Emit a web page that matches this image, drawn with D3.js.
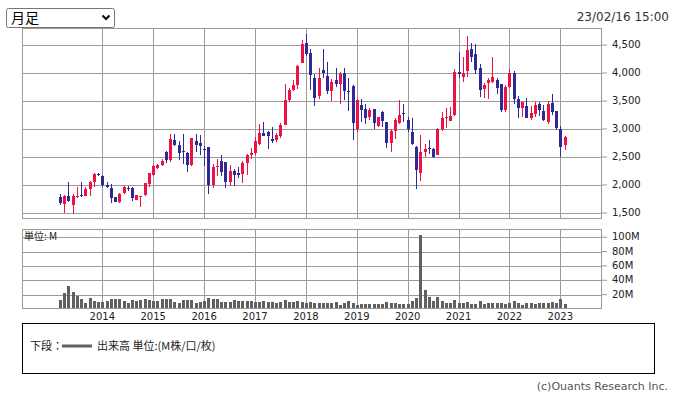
<!DOCTYPE html>
<html>
<head>
<meta charset="utf-8">
<script src="https://cdn.jsdelivr.net/npm/d3@7"></script>
<style>
  body { margin: 0; background: #fff; }
  svg { display: block; }
  .tick text { font-family: 'DejaVu Sans', sans-serif; font-size: 10px; fill: #222; }
  .tick line { stroke: #9a9a9a; }
</style>
</head>
<body>
<svg id="chart" width="675" height="395"></svg>
<script>
// monthly bars, 2013/03 .. 2023/02
const months = [
  '2013/03', '2013/04', '2013/05', '2013/06', '2013/07', '2013/08', '2013/09', '2013/10', '2013/11', '2013/12',
  '2014/01', '2014/02', '2014/03', '2014/04', '2014/05', '2014/06', '2014/07', '2014/08', '2014/09', '2014/10', '2014/11', '2014/12',
  '2015/01', '2015/02', '2015/03', '2015/04', '2015/05', '2015/06', '2015/07', '2015/08', '2015/09', '2015/10', '2015/11', '2015/12',
  '2016/01', '2016/02', '2016/03', '2016/04', '2016/05', '2016/06', '2016/07', '2016/08', '2016/09', '2016/10', '2016/11', '2016/12',
  '2017/01', '2017/02', '2017/03', '2017/04', '2017/05', '2017/06', '2017/07', '2017/08', '2017/09', '2017/10', '2017/11', '2017/12',
  '2018/01', '2018/02', '2018/03', '2018/04', '2018/05', '2018/06', '2018/07', '2018/08', '2018/09', '2018/10', '2018/11', '2018/12',
  '2019/01', '2019/02', '2019/03', '2019/04', '2019/05', '2019/06', '2019/07', '2019/08', '2019/09', '2019/10', '2019/11', '2019/12',
  '2020/01', '2020/02', '2020/03', '2020/04', '2020/05', '2020/06', '2020/07', '2020/08', '2020/09', '2020/10', '2020/11', '2020/12',
  '2021/01', '2021/02', '2021/03', '2021/04', '2021/05', '2021/06', '2021/07', '2021/08', '2021/09', '2021/10', '2021/11', '2021/12',
  '2022/01', '2022/02', '2022/03', '2022/04', '2022/05', '2022/06', '2022/07', '2022/08', '2022/09', '2022/10', '2022/11', '2022/12',
  '2023/01', '2023/02'
];

const opens = [
  1784, 1666, 1796, 1642, 1790, 1814, 1808, 1920, 2056, 2198,
  2163, 2003, 1944, 1778, 1695, 1861, 1950, 1938, 1740, 1780, 1829, 2009,
  2186, 2305, 2358, 2583, 2441, 2802, 2714, 2613, 2577, 2351, 2786, 2750,
  2649, 2679, 2000, 2321, 2429, 2405, 2048, 2250, 2208, 2202, 2387, 2530,
  2577, 2726, 2935, 2952, 2827, 2798, 2869, 3071, 3512, 3690, 3780, 4173,
  4542, 4363, 3917, 3583, 4060, 3952, 3673, 3881, 3810, 3994, 3673, 3774,
  2994, 3429, 3363, 3220, 3363, 3060, 3298, 3131, 2756, 2970, 3113, 3286,
  3161, 2952, 2685, 2208, 2583, 2667, 2649, 2542, 2994, 3202, 3149, 3250,
  4024, 3935, 4030, 4435, 4345, 4095, 3708, 3815, 3845, 3881, 3810, 3333,
  3744, 4000, 3542, 3369, 3411, 3202, 3262, 3452, 3321, 3131, 3464, 3321,
  3000, 2708
];

const highs = [
  1843, 1820, 2062, 1831, 1968, 2062, 1962, 2074, 2210, 2222,
  2170, 2062, 2009, 1790, 1861, 1985, 1985, 1962, 1825, 1803, 2043, 2222,
  2364, 2376, 2470, 2601, 2908, 2908, 2786, 2917, 2583, 2845, 2917, 2887,
  2690, 2685, 2369, 2470, 2530, 2410, 2351, 2280, 2321, 2435, 2548, 2661,
  2857, 3095, 3125, 2960, 3042, 2935, 3101, 3798, 3726, 3881, 4143, 4589,
  4702, 4435, 3976, 4095, 4435, 4202, 3887, 4095, 4024, 4095, 3917, 3780,
  3542, 3542, 3440, 3381, 3363, 3220, 3321, 3131, 2994, 3190, 3512, 3440,
  3220, 3190, 2690, 2887, 2726, 2810, 2667, 3012, 3310, 3381, 3393, 4077,
  4381, 4292, 4667, 4542, 4524, 4167, 3827, 3905, 4292, 3905, 3810, 3780,
  4066, 4042, 3589, 3488, 3560, 3411, 3488, 3488, 3429, 3500, 3631, 3321,
  3048, 2869
];

const lows = [
  1636, 1506, 1701, 1488, 1760, 1790, 1802, 1802, 1968, 2157,
  1968, 1950, 1684, 1690, 1672, 1843, 1897, 1713, 1735, 1613, 1800, 1968,
  2169, 2281, 2334, 2394, 2417, 2689, 2440, 2369, 2238, 2345, 2595, 2530,
  2333, 1833, 1940, 2155, 2155, 1946, 1976, 1976, 2119, 2042, 2179, 2464,
  2530, 2714, 2869, 2637, 2756, 2768, 2845, 3065, 3488, 3679, 3708, 4170,
  4300, 3690, 3405, 3530, 3917, 3631, 3500, 3750, 3452, 3512, 3321, 2798,
  2952, 3131, 3095, 3161, 3006, 3036, 3036, 2667, 2595, 2821, 3095, 3131,
  2952, 2714, 1923, 2071, 2506, 2560, 2488, 2530, 2958, 3024, 3137, 3232,
  3905, 3845, 3935, 4202, 3988, 3577, 3560, 3542, 3827, 3631, 3310, 3310,
  3726, 3440, 3190, 3214, 3190, 3155, 3214, 3226, 3143, 3095, 3250, 2976,
  2506, 2619
];

const closes = [
  1678, 1796, 1713, 1808, 1808, 1796, 1920, 2062, 2204, 2175,
  1997, 1968, 1766, 1695, 1843, 1962, 1932, 1760, 1815, 1803, 2028, 2210,
  2340, 2352, 2435, 2441, 2825, 2713, 2565, 2583, 2351, 2833, 2708, 2690,
  2637, 2000, 2327, 2333, 2226, 2048, 2250, 2173, 2179, 2399, 2530, 2577,
  2792, 2935, 2881, 2869, 2780, 2899, 3077, 3512, 3702, 3780, 4125, 4524,
  4333, 3958, 3548, 3917, 3994, 3685, 3845, 3798, 3976, 3673, 3655, 3101,
  3518, 3345, 3190, 3345, 3101, 3214, 3149, 2756, 2970, 3161, 3256, 3262,
  2994, 2726, 2268, 2589, 2649, 2643, 2506, 2994, 3202, 3214, 3238, 4024,
  3988, 4000, 4417, 4286, 4048, 3690, 3792, 3869, 3935, 3726, 3333, 3756,
  4000, 3530, 3381, 3488, 3190, 3292, 3429, 3333, 3161, 3452, 3298, 3012,
  2673, 2851
];

// volume, millions
const volumes = [
  12.6, 21.6, 31.5, 23.4, 18.0, 13.5, 8.6, 15.3, 10.8, 9.9,
  9.9, 11.3, 14.0, 14.0, 14.0, 10.8, 8.6, 12.2, 11.7, 12.6, 14.0, 12.6,
  11.3, 11.7, 13.5, 14.0, 13.5, 9.9, 8.6, 12.2, 12.2, 12.6, 9.0, 9.9,
  11.3, 14.9, 14.0, 14.0, 9.9, 9.9, 9.9, 12.2, 10.8, 11.3, 11.3, 11.3,
  9.5, 9.9, 11.3, 9.9, 9.5, 7.7, 9.9, 12.6, 9.9, 9.9, 11.3, 9.5,
  7.7, 9.9, 9.0, 8.5, 8.5, 8.5, 9.0, 9.9, 5.8, 8.5, 11.3, 8.5,
  5.8, 7.1, 7.1, 7.1, 7.1, 7.1, 7.1, 9.9, 9.0, 8.5, 7.1, 7.1,
  7.1, 11.3, 15.4, 102.8, 26.5, 16.8, 11.7, 16.8, 11.7, 9.0, 9.0, 12.7,
  9.0, 9.0, 9.9, 7.1, 7.1, 11.3, 7.1, 8.5, 8.5, 8.5, 9.0, 7.1,
  9.0, 11.3, 8.5, 5.8, 8.5, 8.5, 7.1, 8.5, 8.5, 8.5, 9.9, 8.5,
  14.0, 7.1
];

const priceTicks = [1500, 2000, 2500, 3000, 3500, 4000, 4500];
const volumeTicks = [20, 40, 60, 80, 100];

const upColor = '#ec1245';
const downColor = '#2d2a98';
const gridColor = '#9a9a9a';

const svg = d3.select('#chart');
const crisp = v => Math.round(v) + 0.5;

const plotLeft = 22;
const plotRight = 601;
const priceTop = 28, priceBottom = 218;
const volTop = 229, volBottom = 308;

const x = d3.scaleLinear().domain([-8.94, 127.76]).range([plotLeft, plotRight + 0.7]);
const y = d3.scaleLinear().domain([1405, 4798]).range([priceBottom + 0.3, priceTop + 0.3]);
const yv = d3.scaleLinear().domain([0, 111]).range([volBottom + 1, volTop + 0.3]);

const data = months.map((m, i) => ({
  month: m, i: i,
  open: opens[i], high: highs[i], low: lows[i], close: closes[i], volume: volumes[i]
}));
const janIdx = data.filter(d => d.month.endsWith('/01')).map(d => d.i);

// ---- header ----
const sel = svg.append('g').attr('class', 'period');
sel.append('rect')
  .attr('x', 6.5).attr('y', 8.5).attr('width', 108).attr('height', 19)
  .attr('rx', 2)
  .attr('fill', '#fff').attr('stroke', '#767676');
sel.append('text')
  .attr('x', 11).attr('y', 23)
  .attr('font-family', "'Noto Sans CJK JP', sans-serif")
  .attr('font-size', 14)
  .attr('fill', '#000')
  .text('月足');
sel.append('path')
  .attr('d', 'M102.5,15.5 l3.5,3.5 l3.5,-3.5')
  .attr('fill', 'none').attr('stroke', '#000').attr('stroke-width', 2);

svg.append('text')
  .attr('x', 669).attr('y', 20.5)
  .attr('text-anchor', 'end')
  .attr('font-family', "'DejaVu Sans', sans-serif")
  .attr('font-size', 12)
  .attr('fill', '#333')
  .text('23/02/16 15:00');

// ---- grids ----
const drawPanel = (top, bottom, hTicks, yScale) => {
  const g = svg.append('g');
  g.selectAll('line.h')
    .data(hTicks)
    .enter()
    .append('line')
    .attr('class', 'h')
    .attr('x1', plotLeft).attr('x2', plotRight)
    .attr('y1', d => crisp(yScale(d))).attr('y2', d => crisp(yScale(d)))
    .attr('stroke', gridColor);
  g.selectAll('line.v')
    .data(janIdx)
    .enter()
    .append('line')
    .attr('class', 'v')
    .attr('x1', d => crisp(x(d))).attr('x2', d => crisp(x(d)))
    .attr('y1', top).attr('y2', bottom)
    .attr('stroke', gridColor);
  g.append('rect')
    .attr('x', plotLeft + 0.5).attr('y', top + 0.5)
    .attr('width', plotRight - plotLeft).attr('height', bottom - top)
    .attr('fill', 'none')
    .attr('stroke', gridColor);
  return g;
};

drawPanel(priceTop, priceBottom, priceTicks, y);
drawPanel(volTop, volBottom, volumeTicks, yv);

// ---- axes ----
const priceAxis = svg.append('g')
  .attr('transform', `translate(${plotRight + 1},-0.5)`)
  .call(d3.axisRight(y).tickValues(priceTicks).tickFormat(d3.format(',')).tickSize(5).tickPadding(5));
priceAxis.select('.domain').remove();

const volAxis = svg.append('g')
  .attr('transform', `translate(${plotRight + 1},-0.5)`)
  .call(d3.axisRight(yv).tickValues(volumeTicks).tickFormat(d => d + 'M').tickSize(5).tickPadding(5));
volAxis.select('.domain').remove();

const yearAxis = svg.append('g')
  .attr('transform', `translate(-0.5,${volBottom + 1})`)
  .call(d3.axisBottom(x).tickValues(janIdx).tickFormat(i => months[i].slice(0, 4)).tickSize(0).tickPadding(4));
yearAxis.select('.domain').remove();

// ---- candles ----
const candles = svg.append('g').attr('class', 'candles');
const candle = candles.selectAll('g')
  .data(data)
  .enter()
  .append('g')
  .attr('fill', d => d.close >= d.open ? upColor : downColor)
  .attr('stroke', d => d.close >= d.open ? upColor : downColor);

candle.append('line')
  .attr('x1', d => crisp(x(d.i))).attr('x2', d => crisp(x(d.i)))
  .attr('y1', d => Math.round(y(d.high))).attr('y2', d => Math.round(y(d.low)))
  .attr('stroke-width', 1);

candle.append('rect')
  .attr('stroke', 'none')
  .attr('x', d => Math.round(x(d.i)) - 1)
  .attr('width', 3)
  .attr('y', d => Math.round(y(Math.max(d.open, d.close))))
  .attr('height', d => Math.max(1, Math.round(y(Math.min(d.open, d.close))) - Math.round(y(Math.max(d.open, d.close)))));

// ---- volume ----
svg.append('g')
  .selectAll('rect')
  .data(data)
  .enter()
  .append('rect')
  .attr('x', d => Math.round(x(d.i)) - 1)
  .attr('width', 3)
  .attr('y', d => Math.round(yv(d.volume)))
  .attr('height', d => volBottom - Math.round(yv(d.volume)))
  .attr('fill', '#606060');

svg.append('text')
  .attr('x', 24).attr('y', 240)
  .attr('font-family', "'Noto Sans CJK JP', sans-serif")
  .attr('font-size', 10)
  .attr('fill', '#222')
  .text('単位: M');

// ---- legend ----
const legend = svg.append('g');
legend.append('rect')
  .attr('x', 22.5).attr('y', 323.5).attr('width', 632).attr('height', 50)
  .attr('fill', 'none').attr('stroke', '#000');
legend.append('text')
  .attr('x', 30).attr('y', 350)
  .attr('font-family', "'Noto Sans CJK JP', sans-serif")
  .attr('font-size', 11)
  .attr('fill', '#222')
  .text('下段：');
legend.append('line')
  .attr('x1', 62).attr('x2', 92).attr('y1', 346).attr('y2', 346)
  .attr('stroke', '#606060').attr('stroke-width', 3);
legend.append('text')
  .attr('x', 97).attr('y', 350)
  .attr('font-family', "'Noto Sans CJK JP', sans-serif")
  .attr('font-size', 11)
  .attr('fill', '#222')
  .text('出来高 単位:(M株/口/枚)');

svg.append('text')
  .attr('x', 668).attr('y', 390)
  .attr('text-anchor', 'end')
  .attr('font-family', "'DejaVu Sans', sans-serif")
  .attr('font-size', 11)
  .attr('fill', '#555')
  .text('(c)Ouants Research Inc.');
</script>
</body>
</html>
